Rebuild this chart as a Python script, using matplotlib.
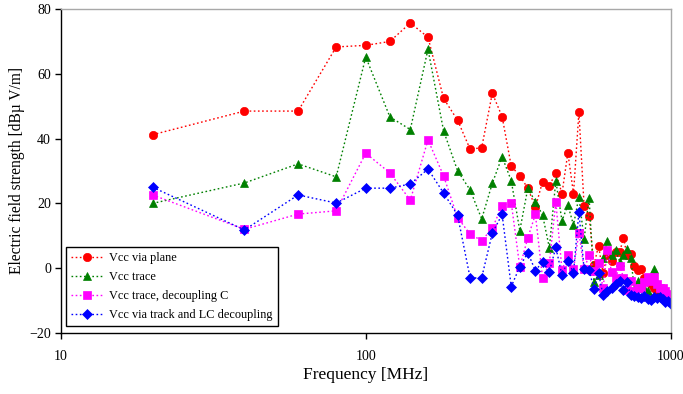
import matplotlib
matplotlib.use("Agg")
import matplotlib.pyplot as plt

freq = [20, 40, 60, 80, 100, 120, 140, 160, 180, 200,
        220, 240, 260, 280, 300, 320, 340, 360, 380, 400,
        420, 440, 460, 480, 500, 520, 540, 560, 580, 600,
        620, 640, 660, 680, 700, 720, 740, 760, 780, 800,
        820, 840, 860, 880, 900, 920, 940, 960, 980, 1000]

vcc_plane = [41.2, 48.5, 48.5, 68.3, 68.8, 70.0, 75.7, 71.3, 52.4, 45.7,
             36.7, 37.2, 54.0, 46.8, 31.5, 28.5, 24.7, 18.8, 26.7, 25.4,
             29.5, 23.0, 35.6, 23.0, 48.2, 19.2, 16.1, 1.0, 6.9, -1.5,
             4.0, 2.2, 5.0, 5.0, 9.2, 4.0, 4.3, 0.6, -0.5, -0.3,
             -3.0, -4.0, -5.0, -6.0, -7.0, -7.7, -8.0, -8.5, -8.5, -9.0]

vcc_trace = [20.0, 26.3, 32.2, 28.2, 65.2, 46.7, 42.8, 67.6, 42.4, 30.1,
             24.1, 15.2, 26.2, 34.4, 27.0, 11.6, 24.7, 20.5, 16.4, 6.3,
             27.0, 14.6, 19.5, 13.3, 22.0, 8.9, 21.8, -4.4, -2.0, 3.0,
             8.4, 4.0, 5.6, 2.0, 4.0, 6.0, 3.0, -6.5, -4.0, -5.0,
             -6.0, -7.0, -3.0, -0.3, -5.0, -8.0, -9.0, -8.0, -9.0, -10.0]

vcc_trace_c = [22.6, 12.0, 16.7, 17.7, 35.5, 29.4, 21.0, 39.6, 28.5, 15.6,
               10.5, 8.5, 12.3, 19.3, 20.2, 0.3, 9.4, 16.6, -3.1, 1.5,
               20.5, -0.6, 4.0, -0.3, 11.0, -0.3, 4.0, -1.0, 1.7, -6.2,
               5.7, -1.3, -3.0, 0.8, -2.9, -6.7, -4.0, -7.0, -6.0, -6.0,
               -4.2, -2.6, -4.0, -2.6, -5.0, -6.0, -6.0, -7.0, -8.0, -8.8]

vcc_track_lc = [25.0, 11.8, 22.6, 20.1, 24.7, 24.7, 26.0, 30.6, 23.2, 16.4,
                -3.1, -2.9, 10.8, 16.6, -5.7, 0.5, 4.8, -0.8, 2.0, -1.1,
                6.4, -2.1, 2.2, -1.4, 17.4, -0.3, -0.6, -6.4, -1.6, -8.3,
                -7.2, -6.0, -5.0, -4.0, -6.7, -4.4, -8.3, -8.6, -8.8, -9.3,
                -8.5, -9.5, -9.8, -9.0, -9.2, -8.8, -9.6, -10.4, -10.2, -11.0]

labels = ["Vcc via plane", "Vcc trace", "Vcc trace, decoupling C",
          "Vcc via track and LC decoupling"]
colors = ["#FF0000", "#008000", "#FF00FF", "#0000FF"]
markers = ["o", "^", "s", "D"]
msizes = [6.0, 6.0, 5.5, 5.0]

plt.rcParams['font.family'] = ['Liberation Serif', 'DejaVu Serif']

fig = plt.figure(figsize=(6.83, 3.94), dpi=100)
ax = fig.add_axes([0.089, 0.155, 0.893, 0.822])

series = [vcc_plane, vcc_trace, vcc_trace_c, vcc_track_lc]
for vals, lab, c, m, ms in zip(series, labels, colors, markers, msizes):
    ax.plot(freq, vals, linestyle=(0, (1.2, 1.8)), linewidth=1.0, color=c,
            marker=m, markersize=ms, markerfacecolor=c, markeredgecolor=c,
            markeredgewidth=0.5, label=lab)

ax.set_xscale('log')
ax.set_xlim(10, 1000)
ax.set_ylim(-20, 80)
ax.set_xticks([10, 100, 1000])
ax.set_xticklabels(["10", "100", "1000"])
ax.xaxis.set_minor_locator(matplotlib.ticker.NullLocator())
ax.set_yticks([-20, 0, 20, 40, 60, 80])

ax.tick_params(axis='both', direction='out', length=4, width=1, labelsize=10,
               colors='black')
ax.tick_params(axis='x', pad=8)
ax.tick_params(axis='y', pad=3)

for s in ['left', 'bottom']:
    ax.spines[s].set_color('black')
    ax.spines[s].set_linewidth(1.0)
for s in ['top', 'right']:
    ax.spines[s].set_color('#A8A8A8')
    ax.spines[s].set_linewidth(1.0)

ax.set_xlabel("Frequency [MHz]", fontsize=12.5, labelpad=3)
ax.set_ylabel("Electric field strength [dBµ V/m]", fontsize=11.2, labelpad=3)

leg = ax.legend(loc='lower left', bbox_to_anchor=(0.009, 0.02),
                fontsize=8.8, frameon=True, fancybox=False, framealpha=1,
                edgecolor='black', handlelength=2.6, handletextpad=0.5,
                borderpad=0.42, labelspacing=0.58, borderaxespad=0.0)
leg.get_frame().set_linewidth(1.0)

fig.savefig("out.png", dpi=100)
